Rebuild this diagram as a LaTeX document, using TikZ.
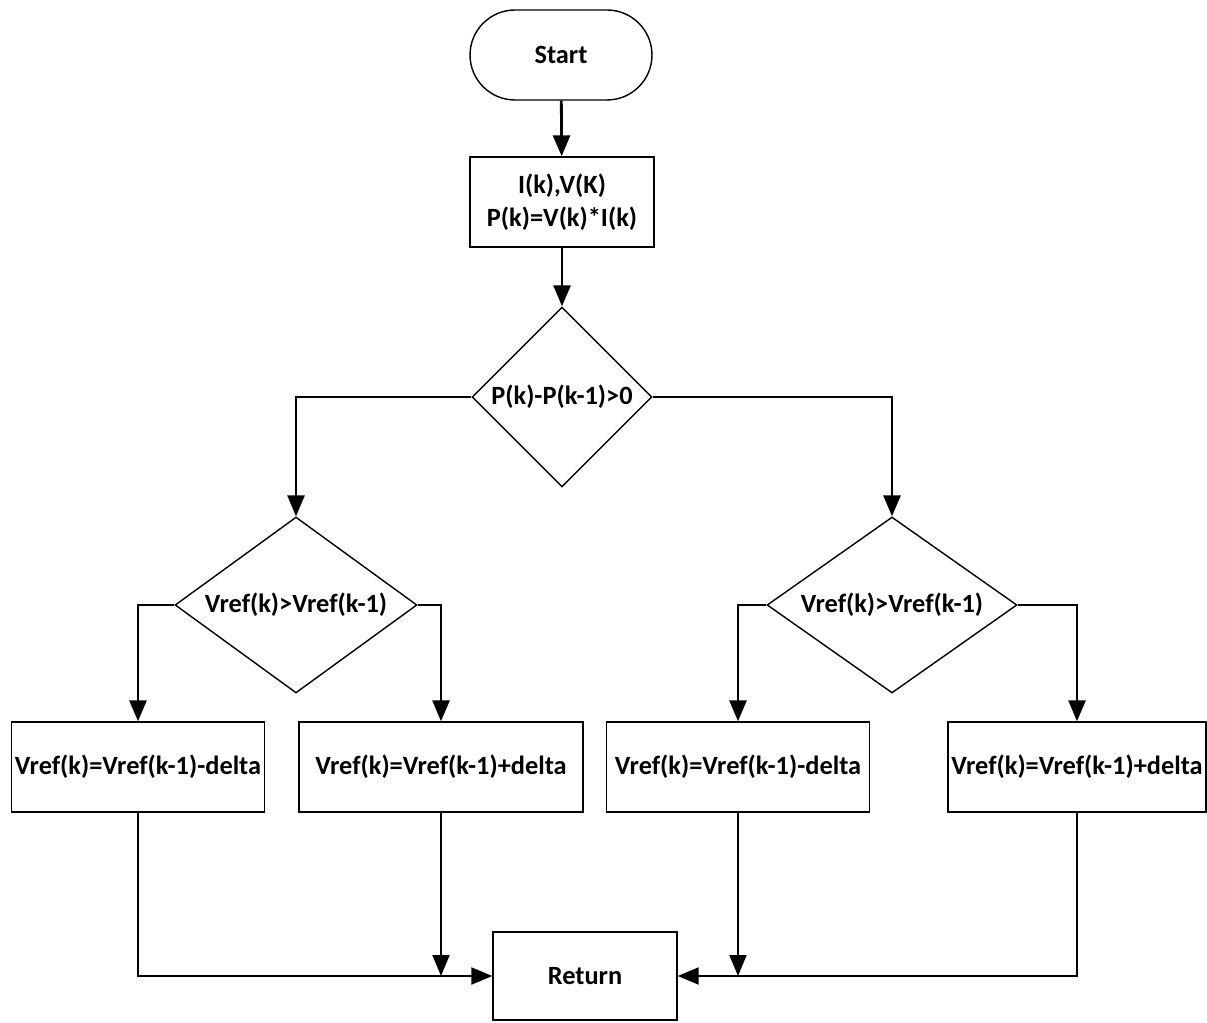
\documentclass[tikz,border=0pt]{standalone}
\usepackage{fontspec}
\setmainfont{Carlito}
\usetikzlibrary{shapes.geometric,arrows.meta}
\tikzset{
    box/.style={draw,line width=0.8pt,rectangle,minimum height=1.8cm,inner sep=0pt,align=center},
    term/.style={box,rounded corners=0.9cm},
    test/.style={draw,line width=0.8pt,diamond,inner sep=0pt,align=center},
    flow/.style={line width=1.6pt,-{Triangle[length=0.42cm,width=0.34cm]}},
    merge/.style={line width=1.2pt,-{Triangle[length=0.42cm,width=0.34cm]}}
}

\begin{document}
\begin{tikzpicture}[x=0.02cm,y=-0.02cm,font=\fontsize{15}{19}\selectfont\bfseries]
    \useasboundingbox[fill=white] (0,0) rectangle (1207,1023);
    \node(start)[term,minimum width=3.64cm] at (561,55) {Start};
    \node(meas)[box,minimum width=3.68cm] at (562,202) {I(k),V(K)\\P(k)=V(k)*I(k)};
    \node(dp)[test,aspect=1,minimum width=3.6cm,minimum height=3.6cm] at (562,397) {P(k)-P(k-1)>0};
    \node(dvl)[test,aspect=1.375,minimum width=4.84cm,minimum height=3.52cm] at (296,605) {Vref(k)>Vref(k-1)};
    \node(dvr)[test,aspect=1.42,minimum width=5cm,minimum height=3.52cm] at (892,605) {Vref(k)>Vref(k-1)};
    \node(decl)[box,minimum width=5.06cm] at (138,767) {Vref(k)=Vref(k-1)-delta};
    \node(incl)[box,minimum width=5.68cm] at (441,767) {Vref(k)=Vref(k-1)+delta};
    \node(decr)[box,minimum width=5.26cm] at (738,767) {Vref(k)=Vref(k-1)-delta};
    \node(incr)[box,minimum width=5.16cm] at (1077,767) {Vref(k)=Vref(k-1)+delta};
    \node(ret)[box,minimum width=3.68cm,minimum height=1.76cm] at (585,976) {Return};

    \draw[flow] (start) -- (meas);
    \draw[flow] (meas) -- (dp);
    \draw[flow] (dp.west) -| (dvl.north);
    \draw[flow] (dp.east) -| (dvr.north);
    \draw[flow] (dvl.west) -| (decl.north);
    \draw[flow] (dvl.east) -| (incl.north);
    \draw[flow] (dvr.west) -| (decr.north);
    \draw[flow] (dvr.east) -| (incr.north);
    \draw[merge] (decl.south) |- (ret.west);
    \draw[merge] (incr.south) |- (ret.east);
    \draw[merge] (incl.south) -- (incl.south |- ret.west);
    \draw[merge] (decr.south) -- (decr.south |- ret.east);
\end{tikzpicture}
\end{document}
